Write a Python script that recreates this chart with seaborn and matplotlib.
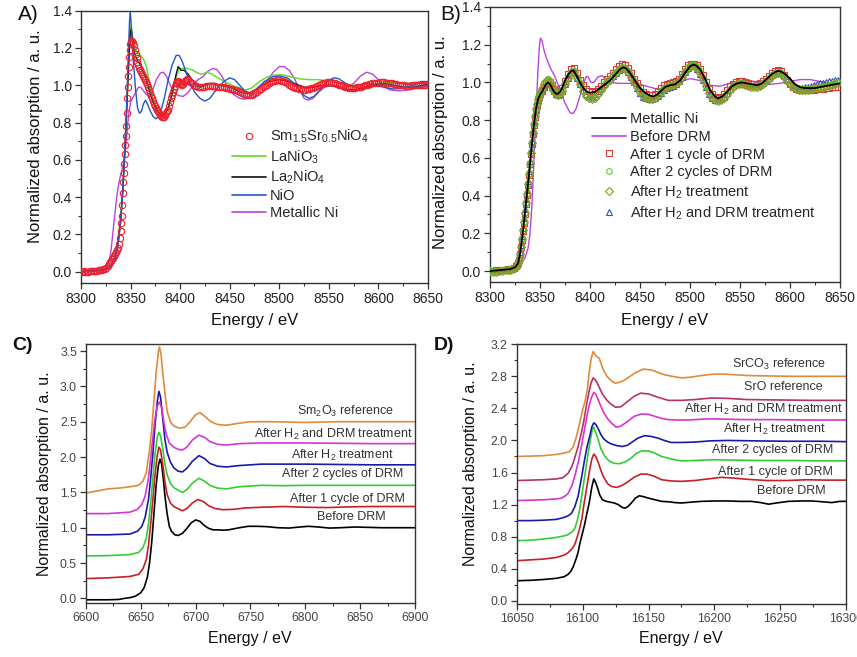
import numpy as np
import pandas as pd
import matplotlib
matplotlib.use("Agg")
import matplotlib.pyplot as plt
from matplotlib.lines import Line2D
from matplotlib.ticker import MultipleLocator
import seaborn as sns

# ---------------- DATA ----------------
# Panel A : Ni K-edge, references
sm_pts = [(8300,0.000),(8301.5,-0.003),(8303,0.002),(8304.5,0.000),(8306,-0.002),(8307.5,0.001),(8309,0.003),
          (8310.5,0.002),(8312,0.004),(8313.5,0.003),(8315,0.005),(8316.5,0.006),(8318,0.008),(8319.5,0.009),
          (8321,0.011),(8322.5,0.013),(8324,0.016),(8325.5,0.020),(8327,0.030),(8328,0.040),(8329,0.050),
          (8330,0.060),(8331,0.068),(8332,0.075),(8333,0.085),(8334,0.095),(8335,0.105),(8336,0.115),
          (8337,0.13),(8338,0.15),(8339,0.18),(8340,0.22),(8340.5,0.26),(8341,0.30),(8341.5,0.36),(8342,0.42),
          (8342.5,0.48),(8343,0.53),(8343.5,0.58),(8344,0.63),(8344.5,0.68),(8345,0.73),(8345.5,0.78),
          (8346,0.85),(8346.5,0.93),(8347,0.99),(8347.5,1.05),(8348,1.10),(8348.5,1.15),(8349,1.19),
          (8349.5,1.22),(8350,1.235),(8351,1.235),(8352,1.225),(8353,1.21),(8354,1.19),(8355,1.165),
          (8356,1.145),(8357,1.125),(8358,1.11),(8359,1.095),(8360,1.08),(8361,1.07),(8362,1.06),(8363,1.05),
          (8364,1.04),(8365,1.03),(8366,1.02),(8367,1.005),(8368,0.99),(8369,0.975),(8370,0.96),(8371,0.945),
          (8372,0.93),(8373,0.915),(8374,0.90),(8375,0.89),(8376,0.88),(8377,0.87),(8378,0.86),(8379,0.85),
          (8380,0.84),(8381,0.835),(8382,0.83),(8383,0.83),(8384,0.832),(8385,0.84),(8386,0.85),(8387,0.86),
          (8388,0.87),(8389,0.89),(8390,0.91),(8391,0.93),(8392,0.95),(8393,0.965),(8394,0.98),(8395,0.995),
          (8396,1.01),(8397,1.02),(8398,1.025),(8399,1.02),(8400,1.01),(8401,1.005),(8402,1.00),(8403,1.005),
          (8404,1.015),(8405,1.025),(8406,1.03),(8407,1.035),(8408,1.03),(8410,1.02),(8412,1.01),(8414,1.00),
          (8416,0.995),(8418,0.99),(8420,0.99),(8422,0.99),(8424,0.992),(8426,0.995),(8428,0.997),(8430,0.998),
          (8432,0.997),(8434,0.995),(8436,0.993),(8438,0.99),(8440,0.99),(8442,0.99),(8444,0.988),(8446,0.985),
          (8448,0.983),(8450,0.98),(8452,0.978),(8454,0.975),(8456,0.972),(8458,0.968),(8460,0.963),
          (8462,0.958),(8464,0.954),(8466,0.95),(8468,0.948),(8470,0.947),(8472,0.948),(8474,0.952),
          (8476,0.958),(8478,0.965),(8480,0.972),(8482,0.98),(8484,0.988),(8486,0.996),(8488,1.003),
          (8490,1.01),(8492,1.016),(8494,1.021),(8496,1.025),(8498,1.027),(8500,1.027),(8502,1.025),
          (8504,1.021),(8506,1.016),(8508,1.01),(8510,1.004),(8512,0.998),(8514,0.992),(8516,0.987),
          (8518,0.983),(8520,0.98),(8522,0.978),(8524,0.977),(8526,0.977),(8528,0.978),(8530,0.98),
          (8532,0.983),(8534,0.987),(8536,0.992),(8538,0.997),(8540,1.002),(8542,1.006),(8544,1.01),
          (8546,1.013),(8548,1.015),(8550,1.016),(8552,1.016),(8554,1.014),(8556,1.011),(8558,1.007),
          (8560,1.003),(8562,0.999),(8564,0.995),(8566,0.991),(8568,0.988),(8570,0.986),(8572,0.985),
          (8574,0.985),(8576,0.986),(8578,0.988),(8580,0.99),(8582,0.993),(8584,0.996),(8586,0.999),
          (8588,1.002),(8590,1.005),(8592,1.008),(8594,1.01),(8596,1.012),(8598,1.013),(8600,1.014),
          (8602,1.015),(8604,1.015),(8606,1.015),(8608,1.014),(8610,1.013),(8612,1.012),(8614,1.01),
          (8616,1.008),(8618,1.006),(8620,1.004),(8622,1.002),(8624,1.0),(8626,0.999),(8628,0.998),
          (8630,0.998),(8632,0.998),(8634,0.999),(8636,1.0),(8638,1.001),(8640,1.002),(8642,1.003),
          (8644,1.003),(8646,1.004),(8648,1.004),(8650,1.005)]

lanio3_pts = [(8300,0.0),(8310,0.003),(8320,0.008),(8326,0.015),(8330,0.03),(8334,0.08),(8337,0.15),(8340,0.3),
              (8342,0.45),(8344,0.65),(8346,0.88),(8348,1.12),(8349.5,1.28),(8350.5,1.32),(8352,1.26),(8354,1.2),
              (8357,1.17),(8360,1.16),(8363,1.14),(8366,1.1),(8369,1.02),(8372,0.94),(8376,0.88),(8380,0.85),
              (8384,0.85),(8388,0.88),(8392,0.95),(8396,1.04),(8399,1.09),(8403,1.09),(8408,1.09),(8413,1.08),
              (8418,1.065),(8422,1.06),(8427,1.07),(8432,1.06),(8438,1.04),(8445,1.02),(8452,1.0),(8460,0.985),
              (8466,0.975),(8472,0.985),(8480,1.02),(8488,1.045),(8496,1.055),(8504,1.055),(8512,1.045),
              (8520,1.035),(8530,1.03),(8540,1.03),(8550,1.02),(8560,1.01),(8570,1.0),(8580,1.0),(8590,1.005),
              (8600,1.01),(8610,1.015),(8620,1.01),(8630,1.01),(8640,1.015),(8650,1.015)]

la2nio4_pts = [(8300,0.0),(8310,0.003),(8320,0.008),(8326,0.015),(8330,0.03),(8334,0.07),(8337,0.13),(8340,0.27),
               (8342,0.42),(8344,0.62),(8346,0.85),(8348,1.1),(8349.5,1.27),(8350.5,1.3),(8352,1.24),(8354,1.17),
               (8357,1.13),(8360,1.11),(8364,1.06),(8368,0.99),(8372,0.92),(8376,0.87),(8380,0.84),(8384,0.84),
               (8388,0.88),(8392,0.96),(8396,1.06),(8398,1.1),(8401,1.08),(8404,1.08),(8408,1.06),(8412,1.03),
               (8416,1.0),(8420,0.99),(8425,1.0),(8430,1.01),(8435,1.01),(8440,1.0),(8450,0.99),(8458,0.97),
               (8466,0.955),(8472,0.96),(8480,0.99),(8490,1.02),(8500,1.03),(8510,1.02),(8520,1.0),(8528,0.985),
               (8535,0.99),(8545,1.0),(8555,0.995),(8565,0.98),(8575,0.975),(8585,0.985),(8595,1.0),(8605,1.01),
               (8615,1.0),(8625,0.99),(8635,0.99),(8645,1.0),(8650,1.005)]

nio_pts = [(8300,0.0),(8310,0.003),(8320,0.008),(8326,0.015),(8330,0.03),(8334,0.07),(8337,0.13),(8340,0.27),
           (8342,0.42),(8344,0.62),(8346,0.88),(8348,1.2),(8349,1.35),(8349.8,1.39),(8351,1.3),(8353,1.12),
           (8355,0.98),(8357,0.88),(8359,0.85),(8361,0.86),(8363,0.9),(8365,0.92),(8367,0.9),(8370,0.86),
           (8373,0.83),(8376,0.82),(8380,0.85),(8384,0.93),(8388,1.03),(8392,1.11),(8396,1.16),(8399,1.16),
           (8402,1.13),(8406,1.07),(8410,1.01),(8415,0.96),(8420,0.93),(8425,0.915),(8430,0.93),(8437,0.98),
           (8444,1.02),(8450,1.04),(8455,1.03),(8460,1.0),(8465,0.97),(8470,0.96),(8477,0.98),(8485,1.02),
           (8493,1.045),(8500,1.05),(8508,1.04),(8515,1.01),(8520,0.975),(8525,0.945),(8530,0.93),(8535,0.94),
           (8542,0.98),(8548,1.02),(8555,1.04),(8560,1.035),(8567,1.01),(8575,0.99),(8585,0.99),(8595,1.0),
           (8605,0.99),(8615,0.98),(8625,0.985),(8635,1.0),(8643,1.02),(8650,1.02)]

metni_a_pts = [(8300,0.0),(8310,0.003),(8320,0.01),(8325,0.02),(8328,0.05),(8330,0.1),(8332,0.2),(8334,0.3),
               (8336,0.4),(8338,0.47),(8340,0.52),(8342,0.56),(8344,0.62),(8346,0.72),(8348,0.84),(8350,0.91),
               (8352,0.93),(8355,0.96),(8358,0.99),(8360,0.99),(8363,0.97),(8366,0.95),(8369,0.94),(8372,0.97),
               (8376,1.03),(8380,1.065),(8383,1.07),(8386,1.05),(8390,1.0),(8394,0.96),(8398,0.945),(8403,0.94),
               (8408,0.96),(8413,1.0),(8418,1.03),(8423,1.045),(8428,1.075),(8433,1.09),(8437,1.085),(8442,1.05),
               (8448,0.99),(8454,0.95),(8460,0.93),(8465,0.925),(8470,0.94),(8475,0.97),(8480,0.985),(8487,1.02),
               (8494,1.07),(8500,1.1),(8505,1.1),(8510,1.08),(8515,1.04),(8520,0.98),(8525,0.93),(8529,0.92),
               (8534,0.93),(8540,0.965),(8546,0.99),(8552,1.0),(8560,0.995),(8568,0.99),(8575,1.01),(8582,1.05),
               (8588,1.07),(8594,1.06),(8600,1.03),(8606,0.99),(8612,0.975),(8620,0.97),(8630,0.975),(8640,0.985),
               (8650,1.0)]

# Panel B : Ni K-edge of the catalyst
metni_b_pts = [(8300,0.0),(8310,0.005),(8320,0.01),(8325,0.02),(8328,0.04),(8330,0.09),(8332,0.17),(8334,0.26),
               (8336,0.36),(8338,0.46),(8340,0.57),(8342,0.68),(8344,0.78),(8346,0.86),(8348,0.91),(8350,0.935),
               (8352,0.95),(8354,0.97),(8356,0.99),(8358,1.0),(8360,0.99),(8362,0.97),(8364,0.95),(8366,0.94),
               (8368,0.94),(8370,0.95),(8372,0.97),(8375,1.01),(8378,1.04),(8381,1.06),(8383,1.065),(8385,1.05),
               (8388,1.02),(8391,0.99),(8394,0.965),(8397,0.95),(8400,0.945),(8405,0.95),(8410,0.97),(8415,0.99),
               (8420,1.01),(8425,1.04),(8430,1.07),(8433,1.08),(8436,1.075),(8440,1.05),(8445,1.01),(8450,0.97),
               (8455,0.945),(8460,0.93),(8463,0.925),(8467,0.935),(8470,0.95),(8475,0.975),(8480,0.985),
               (8485,0.99),(8490,1.01),(8495,1.05),(8500,1.085),(8503,1.095),(8506,1.09),(8510,1.07),(8515,1.02),
               (8520,0.96),(8525,0.925),(8528,0.915),(8532,0.925),(8537,0.95),(8542,0.98),(8547,0.995),(8552,1.0),
               (8557,0.995),(8562,0.99),(8567,0.985),(8572,0.995),(8577,1.02),(8582,1.045),(8587,1.06),(8590,1.06),
               (8595,1.045),(8600,1.02),(8605,0.99),(8610,0.975),(8615,0.97),(8620,0.97),(8625,0.97),(8630,0.975),
               (8635,0.98),(8640,0.985),(8645,0.99),(8650,0.995)]

before_b_pts = [(8300,0.0),(8310,0.003),(8320,0.006),(8325,0.01),(8330,0.03),(8335,0.07),(8338,0.12),(8340,0.2),
                (8342,0.36),(8344,0.6),(8346,0.85),(8348,1.07),(8349.5,1.2),(8350.5,1.235),(8352,1.22),(8354,1.17),
                (8357,1.12),(8360,1.08),(8365,1.03),(8370,0.96),(8375,0.89),(8380,0.84),(8383,0.835),(8386,0.86),
                (8390,0.93),(8394,1.0),(8396,1.03),(8398,1.03),(8401,1.0),(8404,1.0),(8408,1.03),(8412,1.035),
                (8416,1.02),(8420,1.0),(8430,0.995),(8440,0.995),(8450,0.99),(8460,0.975),(8470,0.96),(8480,0.975),
                (8490,1.005),(8500,1.02),(8510,1.01),(8520,0.985),(8530,0.98),(8540,0.995),(8550,1.01),(8560,1.01),
                (8570,0.995),(8580,0.99),(8590,0.995),(8600,1.005),(8610,1.015),(8620,1.015),(8630,1.005),
                (8640,0.995),(8650,0.99)]

e_b = [8300, 8303, 8306, 8309, 8312, 8315, 8318, 8320, 8322, 8324,
       8326, 8327, 8328, 8329, 8330, 8331, 8332, 8333, 8334, 8335,
       8336, 8337, 8338, 8339, 8340, 8341, 8342, 8343, 8344, 8345,
       8346, 8347, 8348, 8349, 8350, 8352, 8354, 8356, 8358, 8360,
       8362, 8364, 8366, 8368, 8370, 8372, 8375, 8378, 8381, 8384,
       8387, 8390, 8393, 8396, 8399, 8402, 8405, 8408, 8411, 8414,
       8417, 8420, 8423, 8426, 8429, 8432, 8435, 8438, 8441, 8444,
       8447, 8450, 8453, 8456, 8459, 8462, 8465, 8468, 8471, 8474,
       8477, 8480, 8483, 8486, 8489, 8492, 8495, 8498, 8501, 8504,
       8507, 8510, 8513, 8516, 8519, 8522, 8525, 8528, 8531, 8534,
       8537, 8540, 8543, 8546, 8549, 8552, 8555, 8558, 8561, 8564,
       8567, 8570, 8573, 8576, 8579, 8582, 8585, 8588, 8591, 8594,
       8597, 8600, 8603, 8606, 8609, 8612, 8615, 8618, 8621, 8624,
       8627, 8630, 8633, 8636, 8639, 8642, 8645, 8648]

after1_b = [0.0, 0.002, 0.003, 0.004, 0.006, 0.007, 0.009, 0.011, 0.013, 0.017,
            0.026, 0.033, 0.042, 0.06, 0.088, 0.125, 0.165, 0.21, 0.255, 0.305,
            0.355, 0.405, 0.455, 0.51, 0.565, 0.62, 0.675, 0.725, 0.775, 0.815,
            0.855, 0.88, 0.905, 0.925, 0.94, 0.955, 0.975, 0.995, 1.01, 1.0,
            0.985, 0.965, 0.955, 0.95, 0.955, 0.97, 1.005, 1.045, 1.07, 1.075,
            1.05, 1.015, 0.985, 0.965, 0.955, 0.95, 0.955, 0.965, 0.98, 1.0,
            1.02, 1.035, 1.05, 1.07, 1.085, 1.095, 1.09, 1.075, 1.05, 1.02,
            0.995, 0.97, 0.95, 0.94, 0.935, 0.935, 0.94, 0.955, 0.97, 0.985,
            0.99, 0.995, 1.0, 1.005, 1.02, 1.045, 1.07, 1.09, 1.1, 1.1,
            1.09, 1.07, 1.04, 1.0, 0.965, 0.94, 0.925, 0.92, 0.925, 0.94,
            0.96, 0.98, 0.99, 1.0, 1.005, 1.005, 1.0, 0.995, 0.99, 0.99,
            0.99, 0.995, 1.005, 1.02, 1.035, 1.05, 1.06, 1.065, 1.06, 1.04,
            1.015, 0.99, 0.975, 0.965, 0.96, 0.958, 0.958, 0.958, 0.96, 0.962,
            0.963, 0.965, 0.967, 0.97, 0.972, 0.974, 0.976, 0.978]

after2_b = [0.002, 0.0, 0.001, 0.002, 0.004, 0.005, 0.007, 0.009, 0.011, 0.015,
            0.024, 0.031, 0.04, 0.06, 0.09, 0.13, 0.175, 0.22, 0.265, 0.315,
            0.365, 0.415, 0.465, 0.52, 0.575, 0.63, 0.685, 0.735, 0.785, 0.825,
            0.865, 0.89, 0.915, 0.935, 0.95, 0.97, 0.995, 1.01, 1.02, 1.005,
            0.98, 0.96, 0.945, 0.94, 0.945, 0.96, 0.995, 1.03, 1.055, 1.06,
            1.03, 0.995, 0.96, 0.935, 0.92, 0.915, 0.925, 0.945, 0.965, 0.985,
            1.005, 1.02, 1.04, 1.055, 1.07, 1.08, 1.075, 1.06, 1.035, 1.005,
            0.98, 0.955, 0.935, 0.925, 0.915, 0.915, 0.92, 0.935, 0.955, 0.97,
            0.98, 0.985, 0.99, 0.995, 1.01, 1.035, 1.06, 1.08, 1.09, 1.09,
            1.08, 1.055, 1.025, 0.985, 0.95, 0.925, 0.91, 0.905, 0.91, 0.925,
            0.945, 0.965, 0.98, 0.99, 0.995, 0.995, 0.99, 0.985, 0.98, 0.98,
            0.98, 0.985, 0.995, 1.01, 1.025, 1.04, 1.05, 1.055, 1.05, 1.035,
            1.015, 0.995, 0.98, 0.97, 0.965, 0.965, 0.965, 0.965, 0.968, 0.97,
            0.972, 0.975, 0.978, 0.982, 0.986, 0.99, 0.995, 1.0]

afterh2_b = [0.0, -0.005, -0.003, 0.0, 0.002, 0.004, 0.006, 0.008, 0.01, 0.014,
             0.022, 0.03, 0.04, 0.06, 0.09, 0.13, 0.17, 0.215, 0.26, 0.31,
             0.36, 0.41, 0.46, 0.515, 0.57, 0.625, 0.68, 0.73, 0.78, 0.82,
             0.86, 0.885, 0.91, 0.93, 0.945, 0.965, 0.99, 1.005, 1.015, 1.0,
             0.975, 0.955, 0.94, 0.935, 0.94, 0.955, 0.99, 1.025, 1.05, 1.055,
             1.025, 0.99, 0.955, 0.93, 0.915, 0.91, 0.92, 0.94, 0.96, 0.98,
             1.0, 1.015, 1.035, 1.05, 1.065, 1.075, 1.07, 1.055, 1.03, 1.0,
             0.975, 0.95, 0.93, 0.92, 0.91, 0.91, 0.915, 0.93, 0.95, 0.965,
             0.975, 0.98, 0.985, 0.99, 1.005, 1.03, 1.055, 1.075, 1.085, 1.085,
             1.075, 1.05, 1.02, 0.98, 0.945, 0.92, 0.905, 0.9, 0.905, 0.92,
             0.94, 0.96, 0.975, 0.985, 0.99, 0.99, 0.985, 0.98, 0.975, 0.975,
             0.975, 0.98, 0.99, 1.005, 1.02, 1.035, 1.045, 1.05, 1.045, 1.03,
             1.01, 0.99, 0.975, 0.965, 0.96, 0.96, 0.96, 0.962, 0.965, 0.968,
             0.97, 0.973, 0.976, 0.98, 0.983, 0.988, 0.993, 0.998]

afterh2drm_b = [0.0, 0.001, 0.002, 0.003, 0.004, 0.006, 0.008, 0.01, 0.012, 0.016,
                0.025, 0.033, 0.045, 0.07, 0.1, 0.14, 0.185, 0.23, 0.28, 0.33,
                0.38, 0.43, 0.48, 0.53, 0.585, 0.64, 0.69, 0.74, 0.785, 0.825,
                0.86, 0.885, 0.91, 0.925, 0.94, 0.955, 0.975, 0.99, 1.0, 0.995,
                0.975, 0.955, 0.94, 0.935, 0.94, 0.955, 0.99, 1.025, 1.05, 1.055,
                1.025, 0.99, 0.96, 0.94, 0.93, 0.93, 0.94, 0.955, 0.97, 0.99,
                1.005, 1.02, 1.035, 1.05, 1.065, 1.075, 1.07, 1.055, 1.03, 1.0,
                0.97, 0.945, 0.925, 0.915, 0.91, 0.91, 0.915, 0.93, 0.945, 0.96,
                0.97, 0.975, 0.98, 0.99, 1.005, 1.03, 1.055, 1.075, 1.085, 1.085,
                1.07, 1.045, 1.015, 0.975, 0.94, 0.915, 0.905, 0.905, 0.91, 0.925,
                0.945, 0.965, 0.98, 0.99, 0.995, 0.995, 0.99, 0.985, 0.98, 0.98,
                0.98, 0.985, 0.995, 1.01, 1.025, 1.04, 1.05, 1.055, 1.05, 1.035,
                1.015, 0.995, 0.985, 0.975, 0.972, 0.972, 0.975, 0.978, 0.982, 0.986,
                0.99, 0.995, 0.998, 1.002, 1.005, 1.008, 1.012, 1.015]

# Panel C : Sm L3-edge (stacked)
c_before = [(6600,-0.02),(6620,-0.02),(6630,-0.015),(6635,0.0),(6640,0.01),(6645,0.03),(6650,0.08),(6653,0.15),
            (6656,0.3),(6658,0.5),(6660,0.8),(6662,1.2),(6664,1.6),(6666,1.88),(6667.5,1.97),(6669,1.9),
            (6670.5,1.7),(6672,1.45),(6674,1.2),(6676,1.02),(6678,0.95),(6681,0.9),(6684,0.89),(6688,0.92),
            (6692,0.99),(6696,1.07),(6700,1.11),(6704,1.09),(6708,1.03),(6712,0.99),(6716,0.97),(6720,0.97),
            (6725,0.965),(6730,0.97),(6740,1.0),(6748,1.02),(6756,1.02),(6765,1.015),(6775,1.0),(6785,0.995),
            (6795,1.01),(6803,1.02),(6812,1.01),(6822,0.995),(6832,1.0),(6845,1.01),(6858,1.005),(6870,1.0),
            (6885,1.0),(6900,1.0)]
c_after1 = [(6600,0.28),(6620,0.29),(6640,0.31),(6648,0.34),(6652,0.42),(6655,0.55),(6657,0.75),(6659,1.05),
            (6661,1.4),(6663,1.75),(6665,2.02),(6666.5,2.14),(6668,2.1),(6670,1.9),(6672,1.65),(6674,1.47),
            (6677,1.35),(6680,1.3),(6684,1.27),(6688,1.24),(6692,1.27),(6697,1.35),(6702,1.4),(6707,1.37),
            (6712,1.31),(6718,1.27),(6725,1.255),(6735,1.26),(6745,1.28),(6760,1.29),(6780,1.3),(6800,1.29),
            (6820,1.285),(6840,1.295),(6860,1.3),(6880,1.3),(6900,1.3)]
c_after2 = [(6600,0.6),(6620,0.605),(6640,0.62),(6648,0.65),(6652,0.72),(6655,0.85),(6657,1.05),(6659,1.35),
            (6661,1.7),(6663,2.05),(6665,2.28),(6666.5,2.35),(6668,2.3),(6670,2.12),(6672,1.9),(6674,1.75),
            (6677,1.63),(6680,1.57),(6684,1.53),(6688,1.5),(6692,1.54),(6697,1.63),(6703,1.7),(6708,1.66),
            (6713,1.6),(6720,1.56),(6728,1.55),(6740,1.58),(6760,1.6),(6780,1.595),(6800,1.6),(6830,1.6),
            (6860,1.6),(6900,1.6)]
c_h2 = [(6600,0.9),(6620,0.9),(6640,0.91),(6647,0.95),(6651,1.02),(6654,1.15),(6657,1.4),(6659,1.7),(6661,2.05),
        (6663,2.45),(6665,2.78),(6666.5,2.93),(6668,2.85),(6670,2.55),(6672,2.25),(6674,2.07),(6677,1.93),
        (6680,1.85),(6684,1.8),(6688,1.79),(6692,1.84),(6697,1.94),(6703,2.02),(6708,1.98),(6713,1.91),
        (6720,1.87),(6728,1.86),(6740,1.88),(6760,1.9),(6780,1.9),(6800,1.9),(6830,1.895),(6860,1.89),(6900,1.89)]
c_h2drm = [(6600,1.2),(6620,1.2),(6640,1.22),(6647,1.26),(6651,1.33),(6654,1.45),(6657,1.7),(6659,1.98),
           (6661,2.28),(6663,2.55),(6665,2.72),(6667,2.78),(6669,2.7),(6671,2.5),(6673,2.33),(6676,2.2),
           (6680,2.14),(6684,2.11),(6688,2.1),(6692,2.14),(6697,2.24),(6703,2.31),(6708,2.28),(6713,2.22),
           (6720,2.18),(6728,2.17),(6740,2.19),(6760,2.2),(6780,2.2),(6800,2.2),(6830,2.195),(6860,2.19),(6900,2.19)]
c_sm2o3 = [(6600,1.49),(6610,1.52),(6620,1.55),(6630,1.56),(6640,1.58),(6648,1.6),(6652,1.66),(6655,1.78),
           (6658,2.1),(6660,2.4),(6662,2.8),(6664,3.2),(6666,3.48),(6667,3.56),(6668.5,3.45),(6670,3.2),
           (6672,2.9),(6674,2.65),(6677,2.5),(6680,2.44),(6685,2.41),(6690,2.42),(6695,2.5),(6700,2.6),
           (6704,2.63),(6708,2.58),(6714,2.5),(6720,2.46),(6728,2.45),(6740,2.48),(6750,2.5),(6770,2.5),
           (6800,2.49),(6830,2.5),(6860,2.5),(6900,2.5)]

# Panel D : Sr K-edge (stacked)
d_before = [(16050,0.25),(16060,0.255),(16070,0.265),(16080,0.28),(16086,0.3),(16089,0.33),(16091,0.365),
            (16093,0.43),(16095,0.52),(16096.5,0.6),(16098,0.72),(16100,0.85),(16101.5,0.95),(16103,1.07),
            (16105,1.22),(16107,1.42),(16108.5,1.52),(16110,1.47),(16111.5,1.4),(16113,1.32),(16115,1.26),
            (16118,1.24),(16121,1.23),(16124,1.22),(16127,1.2),(16130,1.165),(16132,1.155),(16134,1.17),
            (16137,1.22),(16140,1.28),(16143,1.31),(16146,1.3),(16150,1.28),(16155,1.26),(16160,1.24),
            (16165,1.235),(16170,1.225),(16175,1.22),(16182,1.23),(16190,1.24),(16200,1.245),(16210,1.245),
            (16220,1.24),(16228,1.24),(16235,1.225),(16241,1.205),(16247,1.22),(16256,1.24),(16265,1.245),
            (16274,1.245),(16282,1.235),(16289,1.225),(16295,1.24),(16300,1.24)]
d_after1 = [(16050,0.5),(16060,0.51),(16070,0.52),(16080,0.54),(16086,0.57),(16089,0.6),(16092,0.65),(16094,0.7),
            (16096,0.8),(16098,0.92),(16099.5,1.03),(16101,1.2),(16103,1.4),(16105,1.6),(16107,1.77),
            (16108.5,1.83),(16110,1.8),(16112,1.72),(16114,1.62),(16116,1.54),(16119,1.46),(16122,1.425),
            (16126,1.415),(16130,1.44),(16134,1.48),(16139,1.54),(16144,1.58),(16149,1.58),(16154,1.555),
            (16160,1.51),(16167,1.495),(16175,1.49),(16185,1.5),(16195,1.52),(16205,1.54),(16215,1.53),
            (16225,1.515),(16240,1.5),(16255,1.5),(16270,1.51),(16285,1.505),(16300,1.505)]
d_after2 = [(16050,0.75),(16060,0.755),(16070,0.77),(16080,0.79),(16086,0.81),(16089,0.825),(16092,0.86),
            (16094,0.9),(16096,1.0),(16098,1.16),(16100,1.38),(16102,1.6),(16104,1.82),(16106,2.02),
            (16107.5,2.15),(16108.5,2.165),(16110,2.1),(16112,2.0),(16114,1.89),(16117,1.8),(16120,1.745),
            (16124,1.715),(16128,1.71),(16132,1.73),(16136,1.77),(16141,1.84),(16145,1.87),(16150,1.87),
            (16155,1.84),(16160,1.8),(16167,1.77),(16175,1.745),(16185,1.75),(16198,1.76),(16215,1.755),
            (16236,1.75),(16260,1.75),(16280,1.745),(16300,1.745)]
d_h2 = [(16050,1.0),(16060,1.0),(16070,1.005),(16080,1.015),(16086,1.04),(16089,1.06),(16091.5,1.09),(16094,1.17),
        (16096.5,1.3),(16099,1.52),(16101.5,1.76),(16103.5,1.93),(16105.5,2.06),(16107,2.17),(16108.5,2.22),
        (16110,2.2),(16112,2.14),(16114,2.07),(16116,2.02),(16119,1.98),(16122,1.955),(16126,1.935),
        (16130,1.925),(16134,1.94),(16138,1.985),(16142,2.03),(16147,2.06),(16152,2.05),(16157,2.03),
        (16162,2.0),(16167,1.975),(16175,1.975),(16185,1.98),(16197,1.995),(16210,2.0),(16230,1.995),
        (16255,1.99),(16280,1.99),(16300,1.985)]
d_h2drm = [(16050,1.25),(16060,1.255),(16070,1.26),(16080,1.27),(16084,1.28),(16087,1.31),(16089,1.34),
           (16092,1.44),(16094,1.55),(16097,1.75),(16099,1.92),(16101,2.1),(16103,2.28),(16105,2.44),
           (16106.6,2.53),(16108.5,2.6),(16110,2.58),(16112,2.5),(16114,2.42),(16116,2.35),(16119,2.27),
           (16122,2.215),(16125.5,2.165),(16129,2.18),(16134,2.235),(16139,2.3),(16144.5,2.33),(16150,2.325),
           (16155,2.3),(16160,2.275),(16165,2.26),(16172,2.255),(16180,2.255),(16190,2.265),(16198,2.27),
           (16210,2.265),(16225,2.26),(16245,2.26),(16270,2.255),(16300,2.255)]
d_sro = [(16050,1.5),(16060,1.505),(16070,1.51),(16080,1.52),(16085,1.535),(16089,1.59),(16092,1.68),(16094,1.78),
         (16096.5,1.92),(16099,2.09),(16101,2.25),(16103,2.45),(16105,2.62),(16106.5,2.72),(16108,2.78),
         (16109.5,2.76),(16111,2.72),(16113,2.65),(16115,2.58),(16118,2.51),(16121,2.46),(16125,2.415),
         (16129,2.42),(16134,2.485),(16139,2.55),(16144,2.59),(16150,2.58),(16157,2.54),(16165,2.5),
         (16175,2.5),(16185,2.51),(16198,2.53),(16210,2.525),(16225,2.51),(16250,2.505),(16275,2.5),(16300,2.5)]
d_srco3 = [(16050,1.8),(16060,1.805),(16070,1.81),(16080,1.825),(16085,1.84),(16090,1.86),(16093,1.925),
           (16095,2.03),(16096.5,2.13),(16098.5,2.27),(16100,2.38),(16102,2.5),(16103.6,2.63),(16105,2.85),
           (16106.5,3.02),(16108,3.11),(16109.5,3.07),(16111,3.04),(16112.5,3.03),(16114,2.96),(16116,2.87),
           (16118.5,2.8),(16121,2.755),(16124.5,2.715),(16128,2.725),(16132,2.755),(16136,2.8),(16140,2.845),
           (16146,2.89),(16152,2.88),(16157,2.85),(16162,2.82),(16168,2.8),(16175,2.78),(16182,2.79),
           (16190,2.81),(16198,2.825),(16205,2.83),(16215,2.82),(16225,2.81),(16240,2.805),(16260,2.8),
           (16280,2.8),(16300,2.8)]

# labels
labels_a = ["Sm$_{1.5}$Sr$_{0.5}$NiO$_4$", "LaNiO$_3$", "La$_2$NiO$_4$", "NiO", "Metallic Ni"]
labels_b = ["Metallic Ni", "Before DRM", "After 1 cycle of DRM", "After 2 cycles of DRM",
            "After H$_2$ treatment", "After H$_2$ and DRM treatment"]
labels_c = ["Sm$_2$O$_3$ reference", "After H$_2$ and DRM treatment", "After H$_2$ treatment",
            "After 2 cycles of DRM", "After 1 cycle of DRM", "Before DRM"]
labels_c_pos = [(6837, 2.65), (6826, 2.32), (6834, 2.02), (6834, 1.755), (6838, 1.40), (6842, 1.146)]
labels_d = ["SrCO$_3$ reference", "SrO reference", "After H$_2$ and DRM treatment", "After H$_2$ treatment",
            "After 2 cycles of DRM", "After 1 cycle of DRM", "Before DRM"]
labels_d_pos = [(16249, 2.95), (16252, 2.67), (16237, 2.39), (16245, 2.14), (16244, 1.887), (16246, 1.61),
                (16258, 1.37)]

# ---------------- STYLE ----------------
sns.set_style("ticks")
plt.rcParams["font.family"] = ["Liberation Sans", "DejaVu Sans"]
plt.rcParams["mathtext.fontset"] = "custom"
plt.rcParams["mathtext.rm"] = "Liberation Sans"
plt.rcParams["mathtext.it"] = "Liberation Sans:italic"
plt.rcParams["mathtext.bf"] = "Liberation Sans:bold"
plt.rcParams["mathtext.default"] = "regular"

fig = plt.figure(figsize=(8.57, 6.57), dpi=100)
fig.patch.set_facecolor("white")

axA = fig.add_axes([0.0945, 0.5693, 0.4049, 0.4145])
axB = fig.add_axes([0.5718, 0.5708, 0.4084, 0.4186])
axC = fig.add_axes([0.1003, 0.0817, 0.3839, 0.3947])
axD = fig.add_axes([0.6029, 0.0807, 0.3846, 0.3953])


def draw_line(ax, pts, color, lw=1.0, z=2):
    e, v = zip(*pts)
    sns.lineplot(x=list(e), y=list(v), ax=ax, color=color, lw=lw, estimator=None, sort=False,
                 legend=False, zorder=z)


def draw_marks(ax, e, v, color, marker, ms, mew=0.8, z=3):
    sns.lineplot(x=list(e), y=list(v), ax=ax, linestyle="none", marker=marker, markersize=ms,
                 markerfacecolor="none", markeredgecolor=color, markeredgewidth=mew, color=color,
                 estimator=None, sort=False, legend=False, zorder=z)


def style_axes(ax, xlim, ylim, xmaj, xmin, ymaj, ymin, tick_fs, tick_col, lab_fs, ylab_xy, xlab_xy, yfmt):
    ax.set_xlim(*xlim)
    ax.set_ylim(*ylim)
    ax.xaxis.set_major_locator(MultipleLocator(xmaj))
    ax.xaxis.set_minor_locator(MultipleLocator(xmin))
    ax.yaxis.set_major_locator(MultipleLocator(ymaj))
    ax.yaxis.set_minor_locator(MultipleLocator(ymin))
    ax.yaxis.set_major_formatter(plt.FormatStrFormatter(yfmt))
    ax.tick_params(which="major", direction="out", length=4, width=0.9, labelsize=tick_fs,
                   labelcolor=tick_col, color="#333333", pad=2.5)
    ax.tick_params(which="minor", direction="out", length=2.2, width=0.8, color="#333333")
    for s in ax.spines.values():
        s.set_visible(True)
        s.set_color("#333333")
        s.set_linewidth(1.0)
    ax.set_xlabel("Energy / eV", fontsize=lab_fs, color="#111111")
    ax.set_ylabel("Normalized absorption / a. u.", fontsize=lab_fs, color="#111111")
    ax.yaxis.set_label_coords(*ylab_xy)
    ax.xaxis.set_label_coords(*xlab_xy)


# ---- Panel A ----
colA = {"sm": "#ee2030", "lanio3": "#66dd2a", "la2nio4": "#111111", "nio": "#2255cc", "metni": "#bb44dd"}
draw_line(axA, metni_a_pts, colA["metni"], 1.0)
draw_line(axA, lanio3_pts, colA["lanio3"], 1.1)
draw_line(axA, la2nio4_pts, colA["la2nio4"], 1.0)
draw_line(axA, nio_pts, colA["nio"], 1.0)
e_sm, v_sm = zip(*sm_pts)
draw_marks(axA, e_sm, v_sm, colA["sm"], "o", 4.6, 0.8, z=4)
style_axes(axA, (8300, 8650), (-0.06, 1.4), 50, 25, 0.2, 0.1, 10, "#222222", 12,
           (-0.11, 0.54), (0.5, -0.11), "%.1f")
hA = [Line2D([], [], ls="none", marker="o", ms=4.6, mfc="none", mec=colA["sm"], mew=0.8),
      Line2D([], [], color=colA["lanio3"], lw=1.3),
      Line2D([], [], color=colA["la2nio4"], lw=1.2),
      Line2D([], [], color=colA["nio"], lw=1.2),
      Line2D([], [], color=colA["metni"], lw=1.2)]
axA.legend(hA, labels_a, loc="upper left", bbox_to_anchor=(232 / 857, 1 - 128 / 657),
           bbox_transform=fig.transFigure, frameon=False, fontsize=10.5, borderpad=0, borderaxespad=0,
           handlelength=2.3, handletextpad=0.3, labelspacing=0.2)

# ---- Panel B ----
colB = {"metni": "#000000", "before": "#bb44dd", "a1": "#e03838", "a2": "#55d030", "h2": "#8c9a28", "h2drm": "#3050c8"}
draw_line(axB, before_b_pts, colB["before"], 1.0, z=2)
draw_marks(axB, e_b, afterh2drm_b, colB["h2drm"], "^", 4.6, 0.8, z=3)
draw_marks(axB, e_b, after1_b, colB["a1"], "s", 4.2, 0.8, z=3)
draw_marks(axB, e_b, after2_b, colB["a2"], "o", 4.4, 0.8, z=3)
draw_marks(axB, e_b, afterh2_b, colB["h2"], "D", 4.2, 0.8, z=3)
draw_line(axB, metni_b_pts, colB["metni"], 1.3, z=5)
style_axes(axB, (8300, 8650), (-0.058, 1.4), 50, 25, 0.2, 0.1, 10, "#222222", 12,
           (-0.12, 0.51), (0.5, -0.113), "%.1f")
hB = [Line2D([], [], color=colB["metni"], lw=1.3),
      Line2D([], [], color=colB["before"], lw=1.2),
      Line2D([], [], ls="none", marker="s", ms=4, mfc="none", mec=colB["a1"], mew=0.8),
      Line2D([], [], ls="none", marker="o", ms=4, mfc="none", mec=colB["a2"], mew=0.8),
      Line2D([], [], ls="none", marker="D", ms=4, mfc="none", mec=colB["h2"], mew=0.8),
      Line2D([], [], ls="none", marker="^", ms=4.5, mfc="none", mec=colB["h2drm"], mew=0.8)]
axB.legend(hB, labels_b, loc="upper left", bbox_to_anchor=(592 / 857, 1 - 112 / 657),
           bbox_transform=fig.transFigure, frameon=False, fontsize=10.5, borderpad=0, borderaxespad=0,
           handlelength=2.3, handletextpad=0.3, labelspacing=0.26)

# ---- Panel C ----
colC = ["#000000", "#c81e28", "#33cc33", "#1a1aa8", "#d535d5", "#e08a3c"]
for pts, c in zip([c_before, c_after1, c_after2, c_h2, c_h2drm, c_sm2o3], colC):
    draw_line(axC, pts, c, 1.2)
style_axes(axC, (6600, 6900), (-0.07, 3.6), 50, 25, 0.5, 0.25, 8.7, "#444444", 11.5,
           (-0.103, 0.50), (0.497, -0.107), "%.1f")
for lab, (x, y) in zip(labels_c, labels_c_pos):
    axC.text(x, y, lab, ha="center", va="center", fontsize=9.0, color="#333333")

# ---- Panel D ----
colD = ["#000000", "#c81e28", "#33cc33", "#1a1aa8", "#d535d5", "#b8306a", "#e08a3c"]
for pts, c in zip([d_before, d_after1, d_after2, d_h2, d_h2drm, d_sro, d_srco3], colD):
    draw_line(axD, pts, c, 1.2)
style_axes(axD, (16050, 16300), (-0.04, 3.2), 50, 25, 0.4, 0.2, 8.7, "#444444", 11.5,
           (-0.118, 0.54), (0.498, -0.104), "%.1f")
for lab, (x, y) in zip(labels_d, labels_d_pos):
    axD.text(x, y, lab, ha="center", va="center", fontsize=9.0, color="#333333")

# panel letters
fig.text(18 / 857, 1 - 15 / 657, "A)", fontsize=15, ha="left", va="center", color="#111111")
fig.text(440 / 857, 1 - 15 / 657, "B)", fontsize=15, ha="left", va="center", color="#111111")
fig.text(12 / 857, 1 - 346 / 657, "C)", fontsize=14, fontweight="bold", ha="left", va="center", color="#111111")
fig.text(434 / 857, 1 - 346 / 657, "D)", fontsize=14, fontweight="bold", ha="left", va="center", color="#111111")

fig.savefig("out.png", dpi=100, facecolor="white")
